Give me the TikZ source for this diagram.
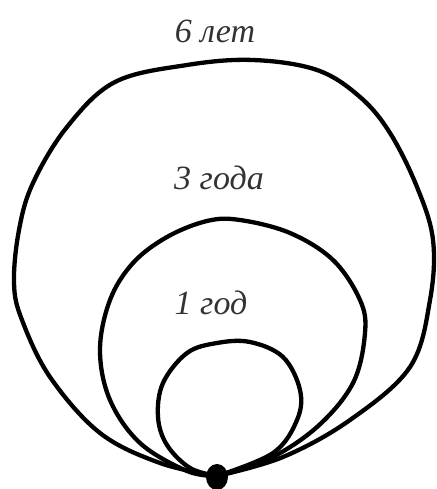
\documentclass[tikz,border=0pt]{standalone}
\usepackage{fontspec}
\setmainfont{Liberation Serif}
\begin{document}
\begin{tikzpicture}[x=1pt,y=-1pt,
  loop/.style={line width=4.3pt,line join=round,line cap=round},
  lbl/.style={font=\itshape\fontsize{34}{34}\selectfont,text=black!80,inner sep=0pt}]
\useasboundingbox (0,0) rectangle (436,489);
% outer
\draw[loop] plot[smooth,tension=0.6] coordinates {
 (217,476) (160,463) (100,433) (50,377) (22,320) (14,283) (19,230) (33,183) (67,127) (115,82) (187,65) (253,60) (317,70) (360,97) (390,133) (417,187) (433,240) (430,300) (410,367) (350,420) (283,457) (217,476)};
% middle
\draw[loop] plot[smooth,tension=0.6] coordinates {
 (217,476) (187,471) (140,443) (110,400) (100,350) (110,300) (133,263) (167,237) (207,221) (240,220) (290,233) (333,260) (360,300) (365,333) (353,383) (317,427) (267,460) (217,476)};
% inner
\draw[loop] plot[smooth,tension=0.6] coordinates {
 (217,476) (190,468) (167,445) (158,417) (163,383) (187,353) (217,343) (250,342) (283,357) (300,390) (297,420) (273,453) (217,476)};
\fill (217,477) ellipse [x radius=11,y radius=13];
\node[lbl] (six) at (215,31) {6 лет};
\node[lbl] (three) at (219,178) {3 года};
\node[lbl] (one) at (211,303) {1 год};
\end{tikzpicture}
\end{document}
